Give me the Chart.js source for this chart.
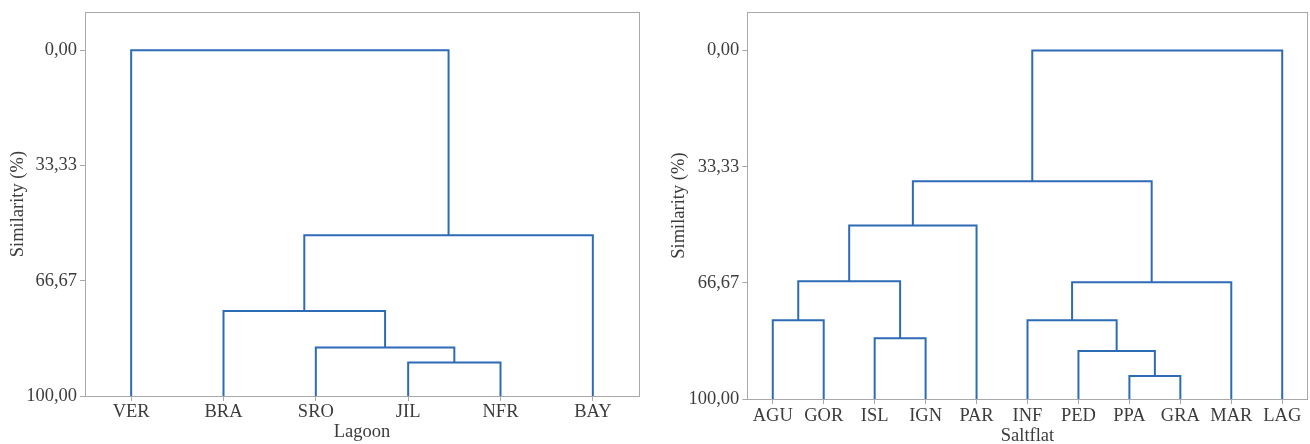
<!DOCTYPE html>
<html><head><meta charset="utf-8">
<script src="https://cdn.jsdelivr.net/npm/chart.js@4"></script>
<style>
body{margin:0;background:#fff;width:1310px;height:444px;overflow:hidden;position:relative}
canvas{position:absolute;top:0}
</style></head>
<body>
<canvas id="c1" width="650" height="444" style="left:0"></canvas>
<canvas id="c2" width="660" height="444" style="left:650px"></canvas>
<script>
// Leaves (x axis categories)
const lagoonSites = ['VER','BRA','SRO','JIL','NFR','BAY'];
// Merges: [childA, childB, similarity %]; leaves are 0..n-1, new clusters numbered n, n+1, ...
const lagoonMerges = [[3,4,90.3],[2,6,86.0],[1,7,75.4],[8,5,53.5],[0,9,0]];

const saltflatSites = ['AGU','GOR','ISL','IGN','PAR','INF','PED','PPA','GRA','MAR','LAG'];
const saltflatMerges = [[0,1,77.4],[2,3,82.6],[11,12,66.2],[13,4,50.2],[7,8,93.4],[6,15,86.2],[5,16,77.4],[17,9,66.5],[14,18,37.5],[19,10,0]];

const yTicks = [0, 33.33, 66.67, 100];

const LINE = '#2E6BB5', GRAY = '#A8A8A8', TXT = '#3C3C3C';
const FONT = {family:"'Liberation Serif','Times New Roman',serif", size:18.5};
const TICKFONT = {family:"'Liberation Serif','Times New Roman',serif", size:18.5, lineHeight:1};

function buildLinks(n, merges){
  const pos = [], h = [];
  for (let i = 0; i < n; i++){ pos.push(i); h.push(100); }
  return merges.map(([a,b,s]) => {
    const d = [{x:pos[a],y:h[a]},{x:pos[a],y:s},{x:pos[b],y:s},{x:pos[b],y:h[b]}];
    pos.push((pos[a]+pos[b])/2); h.push(s);
    return {data:d, borderColor:LINE, borderWidth:2, pointRadius:0, tension:0, fill:false,
            borderJoinStyle:'miter', borderCapStyle:'butt'};
  });
}

const boxPlugin = {
  id:'box',
  afterDraw(chart){
    const {ctx, chartArea:a} = chart;
    ctx.save();
    ctx.strokeStyle = GRAY; ctx.lineWidth = 1;
    ctx.strokeRect(Math.round(a.left)+0.5, Math.round(a.top)+0.5, Math.round(a.right-a.left), Math.round(a.bottom-a.top));
    ctx.restore();
  }
};

function makeChart(id, sites, merges, title, o){
  return new Chart(document.getElementById(id), {
    type:'line',
    data:{datasets: buildLinks(sites.length, merges)},
    options:{
      responsive:false, animation:false, devicePixelRatio:1,
      layout:{padding:{left:0, right:o.padR, top:o.padT, bottom:0}},
      plugins:{legend:{display:false}, tooltip:{enabled:false}},
      scales:{
        x:{type:'linear', min:-0.5, max:sites.length-0.5,
           afterBuildTicks: s => { s.ticks = sites.map((_,i)=>({value:i})); },
           afterFit: s => { s.height = o.xH; },
           grid:{drawOnChartArea:false, drawTicks:true, tickLength:5, color:GRAY},
           border:{display:true, color:GRAY},
           ticks:{autoSkip:false, maxRotation:0, minRotation:0, padding:o.xPad, color:TXT, font:TICKFONT,
                  callback: v => sites[v]},
           title:{display:true, text:title, color:TXT, font:FONT, padding:{top:0, bottom:o.xtPad}}},
        y:{type:'linear', reverse:true, min:-11, max:100,
           afterBuildTicks: s => { s.ticks = yTicks.map(v=>({value:v})); },
           afterFit: s => { s.width = o.yW; },
           grid:{drawOnChartArea:false, drawTicks:true, tickLength:5, color:GRAY},
           border:{display:true, color:GRAY},
           ticks:{padding:3, color:TXT, font:TICKFONT, callback: v => v.toFixed(2).replace('.', ',')},
           title:{display:true, text:'Similarity (%)', color:TXT, font:FONT, padding:{top:o.ytPad, bottom:0}}}
      }
    },
    plugins:[boxPlugin]
  });
}

makeChart('c1', lagoonSites, lagoonMerges, 'Lagoon', {padR:11, padT:12, xH:48, yW:85, xPad:2, xtPad:1, ytPad:7, });
makeChart('c2', saltflatSites, saltflatMerges, 'Saltflat', {padR:2.3, padT:11.7, xH:45, yW:97.3, xPad:3, xtPad:-3, ytPad:18});
</script>
</body></html>
